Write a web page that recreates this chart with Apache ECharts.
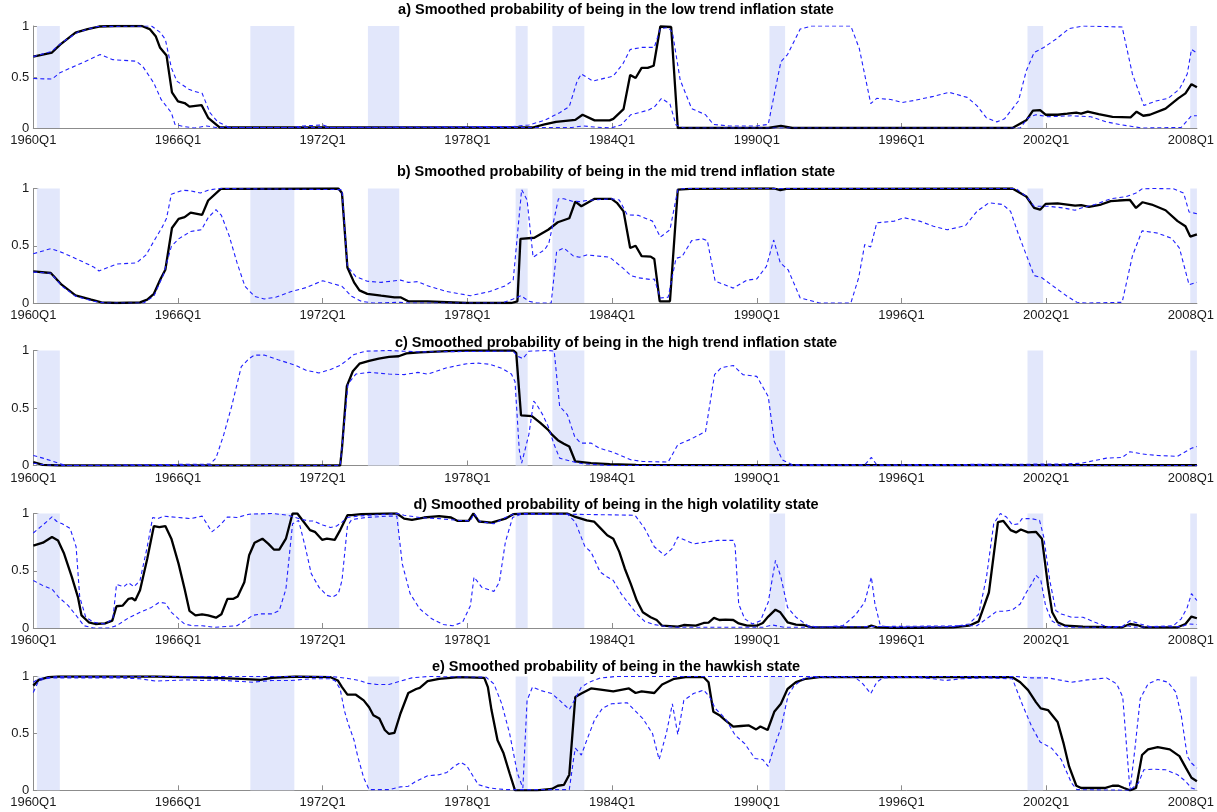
<!DOCTYPE html>
<html><head><meta charset="utf-8">
<script src="https://cdn.jsdelivr.net/npm/echarts@6/dist/echarts.min.js"></script>
<style>html,body{margin:0;padding:0;background:#fff}#c{width:1217px;height:812px}</style>
</head><body><div id="c"></div>
<script>
// x = quarter index since 1960Q1 (0 = 1960Q1, 192 = 2008Q1)
const tickQuarters = [0,24,48,72,96,120,144,168,192];
const tickLabels = ['1960Q1','1966Q1','1972Q1','1978Q1','1984Q1','1990Q1','1996Q1','2002Q1','2008Q1'];
const recessions = [[0.6,4.4],[36,43.3],[55.5,60.7],[80,82],[86.1,91.4],[122.1,124.7],[164.9,167.5],[191.9,193]];
const titles = [
 'a) Smoothed probability of being in the low trend inflation state',
 'b) Smoothed probability of being in the mid trend inflation state',
 'c) Smoothed probability of being in the high trend inflation state',
 'd) Smoothed probability of being in the high volatility state',
 'e) Smoothed probability of being in the hawkish state'
];

// a) low trend inflation
const aMean = [[0,.70],[3.1,.74],[4.5,.82],[7,.935],[9,.97],[10.9,.995],[13.8,1],[18,1],[19.3,.97],[20.3,.90],[21,.79],[22.1,.71],[23,.35],[24,.26],[25.1,.245],[25.9,.21],[27.9,.225],[29,.10],[30.9,.005],[82.8,.005],[84.8,.035],[86.7,.06],[89.9,.08],[91.1,.13],[93.1,.075],[95.6,.075],[96.2,.09],[97.9,.185],[99,.52],[99.9,.49],[100.9,.59],[101.9,.59],[102.9,.61],[104,.995],[105.8,.99],[106.9,0],[121.9,0],[124,.02],[125.9,0],[162.4,0],[164.7,.075],[165.8,.17],[167,.175],[167.9,.13],[169.9,.13],[171.5,.14],[173,.15],[173.8,.14],[174.9,.16],[176.7,.135],[179,.11],[182,.105],[183,.16],[184.1,.12],[185.2,.13],[187.8,.19],[189.9,.29],[191.1,.34],[192.1,.43],[193,.40]];
const aUpper = [[0,.70],[3,.75],[4.8,.84],[7.4,.94],[10.6,.995],[19.6,1],[21,.94],[21.9,.87],[22.9,.59],[23.8,.46],[25.8,.38],[26.7,.36],[28,.34],[29.3,.15],[30.6,.06],[32.5,.005],[42.8,.005],[44.8,.02],[48,.03],[49.3,.005],[79.6,.015],[82.2,.03],[84.8,.075],[87.3,.15],[88.9,.21],[90.2,.46],[90.9,.53],[92.8,.46],[95.6,.50],[96.2,.51],[97.8,.63],[99,.77],[100.9,.79],[103,.79],[104,.975],[105.3,.985],[106,.94],[107.3,.47],[109.2,.19],[111.5,.13],[112.8,.035],[115.4,.02],[120,.02],[121.9,.035],[124,.65],[125.1,.72],[127.2,.97],[129.1,1],[135.6,1],[137,.78],[138.9,.24],[139.9,.29],[142.2,.28],[144.1,.25],[146.1,.27],[149.3,.31],[151.9,.35],[154.9,.30],[156.5,.22],[158.1,.10],[159.8,.06],[161.1,.09],[163.4,.265],[164.7,.56],[166,.74],[167.6,.79],[169.6,.87],[171.8,.975],[174.1,1],[180.6,.99],[182.3,.53],[184.2,.22],[186.2,.265],[188.2,.29],[190.1,.38],[191.4,.53],[192.1,.77],[193,.735]];
const aLower = [[0,.485],[3.1,.48],[4.5,.545],[7.4,.62],[11.1,.72],[13.2,.67],[17.1,.655],[18.2,.60],[20,.44],[21.2,.28],[22.9,.15],[23.5,.035],[24.8,.015],[26.7,0],[28.7,.02],[30.3,.005],[89.3,.005],[91.2,.02],[93,.01],[95.8,0],[97.5,.03],[99.1,.13],[102,.175],[103,.205],[104.2,.29],[105.6,.235],[106.6,.03],[107.9,0],[163.7,0],[165,.10],[166.3,.13],[168.3,.11],[172.2,.12],[175.4,.11],[178,.06],[180.6,.03],[183.9,0],[190.4,.005],[192.1,.12],[193,.12]];

// b) mid trend inflation
const bMean = [[0,.277],[2.9,.262],[4.7,.16],[7,.067],[9.6,.03],[11.3,.006],[13.8,0],[17.7,.006],[18.9,.03],[20,.08],[21.1,.21],[21.9,.29],[23,.655],[24.1,.735],[25.1,.75],[26.1,.79],[28,.77],[29,.895],[31.1,.997],[50.6,1],[51.2,.96],[52.1,.31],[53.2,.18],[54.1,.11],[55.4,.08],[57.7,.064],[59.9,.05],[60.9,.05],[62.2,.015],[65.4,.015],[71.9,0],[79.3,0],[80.3,.015],[80.8,.56],[83.1,.57],[85.4,.64],[87,.705],[88.9,.74],[89.9,.885],[90.9,.845],[93.1,.91],[95.9,.91],[96.8,.875],[97.9,.80],[99,.48],[99.9,.50],[100.9,.41],[102.4,.405],[103,.385],[103.9,.015],[105.6,.015],[106.9,.99],[108.9,.997],[121.3,1],[122.9,1],[123.9,.985],[124.9,.997],[162.4,1],[164.7,.93],[166,.83],[167,.815],[167.9,.865],[169.9,.87],[171.5,.86],[172.8,.85],[173.8,.855],[175.1,.84],[177.1,.86],[178.7,.89],[180,.895],[181.9,.90],[182.9,.83],[184,.88],[185.5,.86],[187.8,.81],[189.8,.715],[191.1,.67],[191.9,.58],[193,.60]];
const bUpper = [[0,.43],[2.9,.475],[4.8,.44],[7.4,.38],[10,.315],[10.9,.28],[13.8,.34],[17.1,.35],[18.7,.42],[20,.54],[21.3,.655],[22.1,.74],[22.9,.95],[24.8,.985],[26.1,.98],[27.7,.96],[29,.985],[30.6,1],[51.2,.99],[52.1,.32],[53.5,.23],[55.4,.19],[57.7,.18],[60.9,.20],[62.2,.18],[63.8,.187],[65.4,.15],[68.6,.10],[72.5,.064],[75.7,.10],[78.3,.15],[79.6,.20],[81,.99],[81.9,.90],[82.9,.40],[84.8,.465],[85.5,.52],[87.1,.91],[88,.91],[89.3,.89],[90.6,.885],[91.8,.895],[95.9,.91],[97.2,.90],[98.5,.77],[100.4,.765],[102.7,.715],[104,.575],[105.6,.64],[106.9,.99],[108,1],[163,1],[164.7,.93],[166,.845],[168.3,.845],[170.9,.83],[172.8,.81],[174.1,.835],[176.1,.86],[178.7,.91],[181.3,.93],[182.9,.96],[183.9,.997],[185.9,1],[189.1,.997],[190.8,.96],[191.7,.795],[193,.78]];
const bLower = [[0,.27],[2.9,.26],[4.8,.145],[7,.06],[10,.015],[11.9,0],[18.3,0],[20,.06],[21.6,.25],[22.9,.495],[24.1,.56],[26.1,.625],[27.9,.64],[29,.745],[30.3,.815],[31.2,.765],[32.5,.585],[33.8,.35],[35.1,.146],[36.7,.058],[38.3,.035],[40.3,.052],[42.8,.10],[45.4,.137],[48,.195],[51.2,.146],[52.8,.058],[54.4,.015],[56.4,0],[60.9,.006],[62.2,0],[77.7,0],[79.6,.035],[80.9,.064],[82.2,.015],[83.5,0],[85.9,0],[86.8,.45],[88,.48],[89.6,.41],[90.6,.40],[91.8,.42],[95.6,.40],[95.9,.39],[97.8,.305],[99.1,.24],[100.4,.22],[102.4,.205],[103,.21],[104,.044],[105.3,.05],[106.6,.39],[107.6,.405],[109.2,.545],[111,.56],[111.8,.545],[113.1,.19],[116.1,.13],[118.4,.20],[120,.21],[121.6,.32],[122.8,.55],[123.9,.35],[125.2,.29],[127.2,.044],[130.4,0],[135.6,0],[136.9,.22],[137.9,.51],[138.9,.49],[139.9,.70],[142.8,.715],[144.4,.745],[147,.715],[149.3,.67],[151.6,.64],[154.6,.675],[156.5,.80],[158.5,.875],[160.8,.86],[162.1,.80],[163.4,.60],[164.7,.42],[166,.24],[167.3,.22],[169.6,.13],[171.5,.058],[173.1,.006],[174.8,0],[180.6,.006],[182.3,.41],[183.9,.63],[186.5,.61],[188.8,.565],[190.1,.48],[191.7,.16],[193,.18]];

// c) high trend inflation
const cMean = [[0,.03],[1.6,.006],[4.2,0],[50.9,0],[51.2,.15],[52,.69],[53,.82],[54.1,.885],[55.7,.91],[57.3,.93],[59,.945],[60.6,.95],[61.9,.975],[64.1,.983],[68.6,.994],[71.9,1],[79.6,1],[80.1,.98],[80.9,.435],[82.7,.43],[84.1,.37],[85.4,.31],[86,.27],[87,.22],[88,.19],[88.9,.165],[89.9,.035],[92.5,.02],[95.6,.012],[100,.006],[110,.003],[193,.002]];
const cUpper = [[0,.087],[1.6,.064],[4.2,.02],[5.4,0],[29.3,.012],[30.3,.064],[31.6,.27],[32.9,.515],[34.5,.86],[35.8,.93],[36.7,.96],[38.3,.96],[40.6,.92],[43.5,.87],[45.4,.825],[47.4,.805],[49.3,.835],[50.9,.87],[51.9,.91],[53.2,.965],[55.1,.994],[59,1],[61.5,.994],[64.1,.988],[79.6,.994],[80.3,.95],[81.2,.93],[82.2,.994],[85.4,1],[86.4,.994],[87.3,.515],[88.6,.44],[89.8,.25],[90.8,.195],[92.5,.195],[93.9,.15],[95.9,.12],[99.1,.05],[101.1,.035],[105.3,.03],[106.9,.18],[108.9,.225],[111.5,.295],[113,.79],[114.1,.85],[116.1,.87],[117.7,.79],[120,.775],[121.9,.60],[122.9,.21],[124.2,.05],[125.9,.006],[137.9,.006],[139,.07],[139.9,.006],[167.6,.012],[170.9,.012],[173.8,.02],[178,.064],[180.6,.07],[181.9,.12],[183.9,.10],[186.5,.087],[189.8,.08],[192.1,.15],[193,.165]];
const cLower = [[0,.02],[2,.005],[5,0],[50.9,0],[51.4,.27],[52.2,.71],[53.5,.795],[55.7,.81],[59,.795],[61.5,.79],[63.8,.81],[65.4,.795],[68.6,.85],[71.9,.885],[73.8,.89],[75.7,.88],[77.7,.845],[79.3,.795],[79.9,.73],[80.6,.137],[81,.02],[81.3,.035],[82.2,.27],[83,.56],[83.5,.53],[84.5,.44],[85.4,.34],[86.4,.18],[87.3,.064],[89.3,.035],[91.2,.015],[95.6,0],[193,0]];

// d) high volatility
const dMean = [[0,.72],[1.6,.745],[3.1,.795],[4.1,.765],[5.1,.65],[6.4,.445],[7.4,.27],[8,.11],[9.2,.05],[10.3,.035],[11.9,.04],[13.1,.065],[13.8,.19],[14.8,.195],[15.8,.255],[16.4,.26],[16.9,.24],[17.7,.33],[18.9,.605],[20,.89],[20.9,.88],[21.9,.89],[22.9,.78],[24.1,.56],[25.1,.34],[25.9,.15],[26.9,.11],[28,.12],[29,.11],[30.3,.09],[31.2,.12],[32.2,.255],[33.2,.255],[33.9,.275],[35,.40],[35.8,.635],[36.7,.745],[38,.78],[39,.735],[39.9,.685],[40.8,.685],[41.9,.78],[43,1],[43.8,1],[44.8,.93],[45.9,.855],[46.7,.84],[47.9,.77],[48.7,.78],[50,.77],[50.9,.855],[52.1,.985],[52.8,.985],[54.4,.994],[59,1],[60.3,1],[61.5,.955],[62.8,.945],[64.8,.965],[67.3,.977],[69.3,.965],[70.4,.935],[72.2,.935],[73,1],[73.9,.93],[76,.92],[78.3,.955],[79.6,.994],[81.5,1],[88.6,1],[89.9,.97],[91.8,.94],[93,.93],[94.1,.87],[95.2,.81],[96.2,.78],[97.2,.665],[98.1,.52],[99.1,.385],[100.1,.24],[101.1,.137],[102.4,.094],[103.4,.07],[104.3,.02],[106.9,.012],[107.9,.026],[109.9,.02],[111.2,.044],[112,.047],[112.9,.088],[113.8,.07],[114.8,.073],[116.1,.07],[117,.04],[118.4,.02],[120,.02],[121,.044],[121.9,.10],[123.1,.16],[123.9,.137],[125.1,.05],[126.5,.03],[127.8,.026],[129.1,.006],[138.2,.006],[139,.02],[139.9,.006],[143.5,0],[152.6,.006],[155.2,.02],[156.8,.058],[158.5,.31],[160,.925],[160.9,.935],[162.1,.855],[163,.835],[163.8,.86],[165,.835],[166.3,.84],[167.3,.78],[168.3,.37],[169,.137],[169.9,.05],[171.2,.02],[174.1,.012],[180.6,.006],[181.9,.035],[183.1,.026],[184.2,.006],[189.8,.006],[191.1,.035],[192.1,.10],[193,.085]];
const dUpper = [[0,.83],[1.6,.90],[3.1,.97],[3.9,.93],[4.8,.91],[6.1,.87],[7.1,.71],[7.7,.27],[8.7,.094],[10,.05],[11.9,.035],[13.2,.08],[13.8,.38],[15,.36],[15.8,.395],[16.7,.36],[17.7,.415],[18.9,.71],[19.8,.965],[20.6,.955],[21.6,.977],[24.1,.965],[26.1,.955],[28,.977],[29.6,.84],[30.5,.877],[31.2,.91],[32.2,.97],[33.8,.965],[35.8,.994],[39.6,1],[42.2,.985],[43.5,.965],[44.6,.947],[45.7,.935],[46.4,.935],[48,.90],[49.3,.877],[50.3,.89],[51.2,.925],[52.1,.965],[53.8,.977],[55.7,.985],[59,.994],[60.3,1],[61.5,.985],[64.1,.965],[67.3,.955],[70.6,.94],[72.5,.935],[73.1,1],[74.1,.93],[76.4,.91],[78.3,.965],[79.6,.994],[80.9,1],[99.8,.985],[101.4,.87],[103,.71],[104.7,.635],[106,.695],[106.9,.795],[108.2,.765],[109.5,.735],[111.5,.75],[113.5,.765],[116.1,.765],[116.4,.72],[117,.21],[118,.08],[119.3,.035],[120.6,.064],[121.9,.225],[123.1,.59],[124,.445],[125.1,.18],[126.5,.094],[128.5,.02],[130.4,.006],[134.3,.02],[136.3,.11],[137.9,.225],[139,.445],[139.6,.21],[140.5,.02],[142.2,.006],[152.6,.012],[155.2,.035],[156.8,.12],[158.1,.445],[159.3,.91],[160.4,1],[161.4,.97],[162.4,.90],[163.4,.91],[164,.955],[165.6,.955],[166.9,.94],[167.6,.795],[168.6,.415],[169.6,.152],[170.5,.123],[172.2,.094],[174.1,.094],[176.1,.05],[178,.012],[180.6,.012],[181.9,.064],[183.6,.035],[185.2,.012],[189.1,.02],[190.4,.08],[191.4,.18],[192.1,.30],[193,.24]];
const dLower = [[0,.415],[1.6,.37],[3.1,.34],[4.2,.27],[5.8,.195],[7.1,.11],[8.4,.02],[10,0],[12.5,0],[13.8,.02],[15.8,.088],[17.7,.137],[19.6,.18],[20.9,.225],[21.9,.216],[22.9,.137],[24.1,.08],[25.1,.035],[26.4,.02],[28,.02],[30,.006],[33.8,.02],[35.1,.064],[36.4,.11],[37.7,.123],[39.6,.123],[40.8,.152],[41.9,.34],[43,.91],[44,.94],[45.1,.71],[46.1,.475],[47.4,.355],[48.7,.285],[49.6,.27],[50.6,.30],[51.2,.415],[52.1,.89],[52.8,.947],[55.1,.965],[59,.977],[60.3,.977],[61.2,.56],[62.5,.30],[64.1,.167],[66.1,.08],[68,.03],[69.6,.02],[71.2,.05],[72.5,.195],[73.1,.445],[74.4,.355],[76.4,.32],[77.3,.40],[78.3,.75],[79.5,.965],[80.9,.994],[88.6,.994],[89.9,.925],[91.5,.71],[92.5,.665],[94,.49],[95.2,.445],[96.2,.415],[97.5,.30],[98.8,.21],[100.1,.123],[101.4,.058],[103,.03],[105,.012],[106.9,.006],[121,.006],[122.6,.026],[124.6,.006],[156.5,.02],[158.1,.08],[159.8,.146],[161.1,.146],[162.4,.158],[163.7,.21],[164.7,.31],[165.6,.385],[166.3,.46],[167.1,.42],[167.9,.195],[168.9,.064],[170.2,.02],[172.2,.006],[180,.006],[181.3,.02],[182.6,.008],[190.4,.012],[191.7,.035],[193,.03]];

// e) hawkish
const eMean = [[0,.92],[0.9,.97],[2.5,.994],[4.2,1],[20.3,1],[24.8,.994],[30,.988],[34.5,.98],[37.7,.97],[39.6,.988],[43.5,1],[49.3,.994],[50.5,.965],[51.2,.907],[52.1,.84],[53.5,.84],[54.8,.79],[55.7,.73],[56.4,.66],[57.4,.63],[58.3,.53],[59,.495],[59.9,.505],[60.9,.675],[62.2,.855],[63.5,.89],[64.1,.90],[65.4,.96],[67.3,.98],[70.6,.994],[74.8,.988],[75.4,.907],[76,.705],[77,.44],[78,.325],[79,.15],[79.9,0],[83.5,0],[86,.012],[87,.04],[88,.047],[88.9,.137],[89.9,.82],[90.9,.85],[92.5,.895],[94.1,.885],[96.2,.87],[98.8,.895],[99.9,.855],[100.9,.87],[103,.855],[104.3,.93],[106.3,.98],[108.2,.994],[111.2,.994],[112,.95],[112.8,.69],[113.8,.66],[114.8,.615],[116.1,.56],[117.4,.565],[118.7,.57],[119.9,.535],[120.6,.56],[121.8,.53],[122.9,.69],[124,.76],[125.1,.89],[126.5,.95],[128.1,.98],[130.4,.994],[162.4,.994],[163.7,.95],[165,.88],[166.3,.775],[167.1,.72],[168.3,.705],[169.9,.60],[170.9,.41],[171.8,.21],[173,.04],[173.8,.02],[177.7,.02],[179,.04],[180,.04],[180.9,.02],[181.9,0],[182.9,.02],[183.9,.31],[184.9,.36],[186.5,.38],[188.5,.36],[190.1,.30],[191.2,.195],[192.1,.11],[193,.08]];
const eUpper = [[0,.95],[0.9,.98],[2.9,.994],[4.2,1],[49.3,1],[50.6,.994],[52.5,.98],[54.1,.965],[55.4,.94],[57,.93],[59,.93],[60.9,.96],[62.8,.988],[65.4,1],[75.1,.994],[76.4,.935],[77.7,.76],[79,.50],[80.3,.15],[81.2,.02],[81.9,.79],[82.8,.907],[84.1,.878],[86,.85],[87.3,.79],[88.9,.71],[89.9,.805],[90.9,.907],[92.2,.95],[94.1,.988],[95.6,.994],[96.5,1],[163,1],[165.6,.988],[168.3,.988],[172.2,.95],[174.8,.97],[178,.988],[179.7,.935],[180.7,.82],[181.3,.41],[181.9,0],[182.7,.355],[183.6,.805],[184.9,.935],[186.5,.974],[188.2,.95],[189.5,.863],[190.4,.66],[191.4,.30],[192.1,.24],[193,.195]];
const eLower = [[0,.86],[0.9,.965],[2.9,.988],[13.8,.988],[17.7,.98],[20.3,.96],[22.9,.965],[25.4,.97],[28,.965],[30.6,.97],[33.2,.96],[36.4,.95],[39.6,.965],[42.8,.965],[46.1,.98],[49.3,.98],[50.1,.96],[50.9,.89],[51.6,.70],[52.2,.59],[53.2,.44],[53.8,.30],[54.8,.11],[55.7,.006],[59,.006],[60.9,.03],[62.2,.035],[63.5,.08],[65.4,.128],[67.3,.137],[68.6,.157],[69.8,.21],[70.9,.245],[71.9,.215],[72.8,.137],[73.8,.05],[75.7,.02],[78.3,.006],[88.9,.006],[89.6,.27],[89.9,.37],[90.9,.31],[91.8,.44],[93.1,.62],[94.4,.72],[95.9,.76],[98.5,.77],[99.8,.70],[101.1,.63],[102.7,.50],[103.8,.27],[105,.50],[106,.76],[106.9,.49],[107.9,.79],[109.5,.85],[111.2,.88],[112.2,.82],[113.1,.72],[114.8,.63],[116.4,.485],[118,.41],[119.7,.28],[121,.27],[121.9,.21],[122.9,.385],[124,.545],[125.2,.835],[126.2,.92],[127.8,.98],[129.1,.994],[136.3,.994],[137.6,.935],[138.9,.85],[139.9,.95],[140.9,.988],[146.1,.994],[149.3,.98],[151.3,.965],[153.9,.98],[157.8,.988],[162.4,.98],[164,.76],[165.6,.56],[167,.425],[168.9,.37],[170.5,.27],[172.2,.064],[173.1,.006],[181.9,0],[183.3,.064],[184.2,.18],[185.9,.186],[187.8,.18],[189.8,.137],[191.1,.08],[192.1,.02],[193,.006]];

const panels = [
  {mean:aMean, upper:aUpper, lower:aLower},
  {mean:bMean, upper:bUpper, lower:bLower},
  {mean:cMean, upper:cUpper, lower:cLower},
  {mean:dMean, upper:dUpper, lower:dLower},
  {mean:eMean, upper:eUpper, lower:eLower}
];

const tops = [26, 188.5, 350.5, 513.5, 676.5];
const heights = [102, 114.5, 115, 114.5, 113.8];
const titleY = [10, 172, 343, 505, 667];
const plotL = 33.3, plotR = 18.6;
const FONT = '"Liberation Sans", Arial, Helvetica, sans-serif';
const AXIS = '#8c8c8c';
const BLUE = '#2020ff';

const grid=[], xAxis=[], yAxis=[], series=[], title=[];
panels.forEach((p,i)=>{
  grid.push({left:plotL, right:plotR, top:tops[i], height:heights[i]});
  title.push({text:titles[i], left:616, top:titleY[i], textAlign:'center', textVerticalAlign:'middle', padding:0,
    textStyle:{fontFamily:FONT, fontSize:14.5, fontWeight:'bold', color:'#000'}});
  xAxis.push({type:'value', gridIndex:i, min:0, max:193, interval:24,
    axisLine:{lineStyle:{color:AXIS, width:1}},
    axisTick:{inside:true, length:5, lineStyle:{color:AXIS}, customValues:tickQuarters},
    axisLabel:{customValues:tickQuarters, margin:6, color:'#1a1a1a', fontFamily:FONT, fontSize:13,
      formatter:v=>{const k=tickQuarters.indexOf(v); return k>=0?tickLabels[k]:'';}},
    splitLine:{show:false}});
  yAxis.push({type:'value', gridIndex:i, min:0, max:1, interval:0.5,
    axisLine:{show:true, lineStyle:{color:AXIS, width:1}},
    axisTick:{show:true, inside:true, length:5, lineStyle:{color:AXIS}},
    axisLabel:{margin:4, color:'#1a1a1a', fontFamily:FONT, fontSize:13},
    splitLine:{show:false}});
  series.push({type:'line', xAxisIndex:i, yAxisIndex:i, data:[], z:1, silent:true,
    markArea:{silent:true, itemStyle:{color:'#e2e7fb'},
      data:recessions.map(r=>[{xAxis:r[0]},{xAxis:r[1]}])}});
  series.push({type:'line', xAxisIndex:i, yAxisIndex:i, data:p.mean, symbol:'none', z:2,
    lineStyle:{color:'#000', width:2.3}});
  [p.upper, p.lower].forEach(d=>series.push({type:'line', xAxisIndex:i, yAxisIndex:i, data:d, symbol:'none', z:3,
    lineStyle:{color:BLUE, width:1.1, type:[4,3]}}));
});

const chart = echarts.init(document.getElementById('c'), null, {renderer:'canvas'});
chart.setOption({animation:false, backgroundColor:'#fff', title, grid, xAxis, yAxis, series});
</script>
</body></html>
